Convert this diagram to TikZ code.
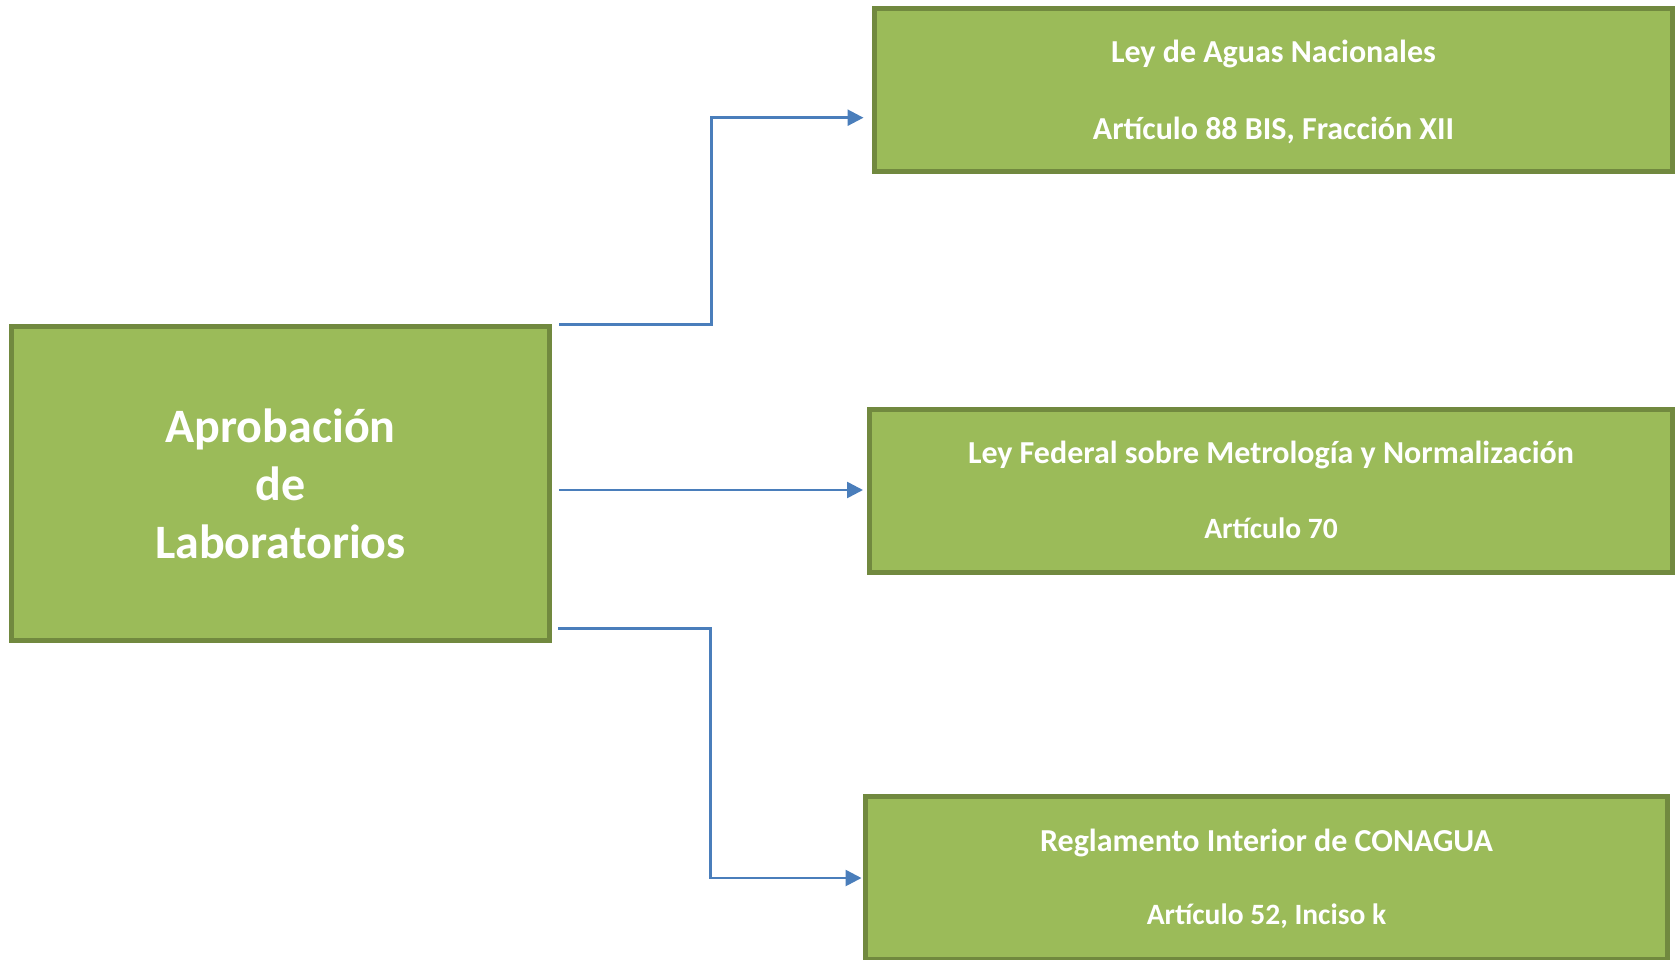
\documentclass[tikz,border=0pt]{standalone}
\usepackage{fontspec}
\setmainfont{Carlito}
\usetikzlibrary{arrows.meta}
\definecolor{boxfill}{HTML}{9BBB59}
\definecolor{boxdraw}{HTML}{71893F}
\definecolor{conncol}{HTML}{4A7EBB}
\tikzset{
  greenbox/.style={draw=boxdraw, fill=boxfill, line width=5pt, inner sep=0pt,
    text=white, font=\bfseries, align=center},
  titletext/.style={inner sep=0pt, text=white, anchor=base,
    font=\bfseries\fontsize{32}{36}\selectfont},
  arttext/.style={inner sep=0pt, text=white, anchor=base,
    font=\bfseries\fontsize{29.5}{36}\selectfont},
  conn/.style={draw=conncol, line width=2.6pt, -{Triangle[length=16pt,width=16pt]}}
}
\begin{document}
\begin{tikzpicture}[x=1pt,y=-1pt]
\useasboundingbox (0,0) rectangle (1675,959);
\node[greenbox, minimum width=538pt, minimum height=314pt,
  font=\bfseries\fontsize{48}{58}\selectfont] (L) at (280.5,483.5)
  {Aprobación\\de\\Laboratorios};
\node[greenbox, minimum width=798pt, minimum height=163pt] (T) at (1273.5,90) {};
\node[titletext] (T1) at ([yshift=27.3pt]T.center) {Ley de Aguas Nacionales};
\node[titletext] (T2) at ([yshift=-49.3pt]T.center) {Artículo 88 BIS, Fracción XII};
\node[greenbox, minimum width=803pt, minimum height=163pt] (M) at (1271,491) {};
\node[titletext] (M1) at ([yshift=27.7pt]M.center) {Ley Federal sobre Metrología y Normalización};
\node[arttext] (M2) at ([yshift=-47pt]M.center) {Artículo 70};
\node[greenbox, minimum width=802pt, minimum height=163pt] (B) at (1266.5,878) {};
\node[titletext] (B1) at ([yshift=27pt]B.center) {Reglamento Interior de CONAGUA};
\node[arttext] (B2) at ([yshift=-46pt]B.center) {Artículo 52, Inciso k};
\coordinate (s1) at (559,324.3);
\coordinate (s2) at (559,490);
\coordinate (s3) at (558,628.3);
\coordinate (t1) at ([yshift=-27.7pt]T.west);
\draw[conn, shorten >=8.5pt] (s1) -- (711.5,324.3) |- (t1);
\draw[conn, shorten >=4pt] (s2) -- (M.west |- s2);
\draw[conn, shorten >=1.5pt] (s3) -- (710.7,628.3) |- (B.west);
\end{tikzpicture}
\end{document}
